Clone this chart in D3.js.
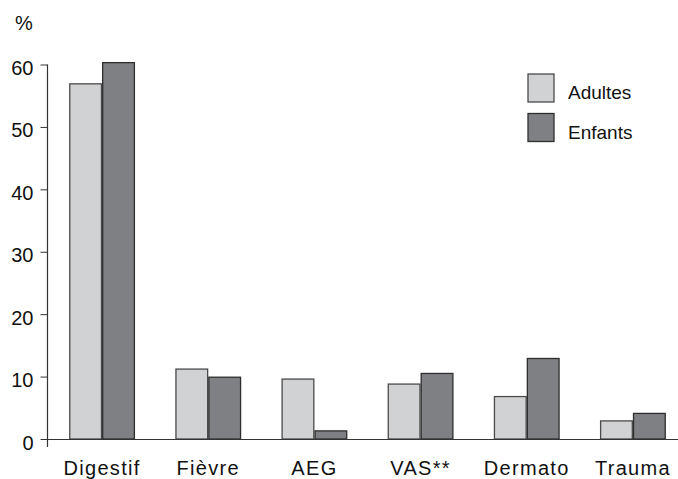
<!DOCTYPE html>
<html lang="fr">

<head>
  <meta charset="UTF-8">
  <title>Adultes / Enfants</title>
  <script src="https://d3js.org/d3.v7.min.js"></script>
  <style>
    body { margin: 0; background: #fff; }
    text { font-family: "Liberation Sans", Arial, sans-serif; fill: #111; }
    .axis text { font-size: 20px; }
    .axis-x text { letter-spacing: 1.3px; }
    .axis line, .axis path { stroke: #333; }
    .legend text { font-size: 19px; }
  </style>
</head>

<body>
  <svg width="678" height="479"></svg>

  <script>
    const categories = ['Digestif', 'Fièvre', 'AEG', 'VAS**', 'Dermato', 'Trauma'];
    const series = ['Adultes', 'Enfants'];
    const adultes = [56.9, 11.2, 9.6, 8.8, 6.8, 2.9];
    const enfants = [60.3, 9.9, 1.3, 10.5, 12.9, 4.1];
    const yTicks = [0, 10, 20, 30, 40, 50, 60];

    const fills = { Adultes: '#d1d2d4', Enfants: '#7f8084' };
    const strokes = { Adultes: '#4a4a4a', Enfants: '#2e2e2e' };

    const svg = d3.select('svg');

    const x0 = d3.scaleBand()
      .domain(categories)
      .range([49, 686])
      .paddingInner(0.38)
      .paddingOuter(0.19);

    const x1 = d3.scaleBand()
      .domain(series)
      .range([0, x0.bandwidth()]);

    const y = d3.scaleLinear()
      .domain([0, 60])
      .range([439, 64.5]);

    const rows = categories.map((c, i) => ({ cat: c, Adultes: adultes[i], Enfants: enfants[i] }));

    // bars
    const groups = svg.append('g')
      .selectAll('g')
      .data(rows)
      .enter().append('g')
      .attr('transform', d => 'translate(' + x0(d.cat) + ',0)');

    groups.selectAll('rect')
      .data(d => series.map(s => ({ s: s, v: d[s] })))
      .enter().append('rect')
      .attr('x', d => x1(d.s) + 0.6)
      .attr('width', x1.bandwidth() - 1.2)
      .attr('y', d => y(d.v))
      .attr('height', d => y(0) - y(d.v))
      .attr('fill', d => fills[d.s])
      .attr('stroke', d => strokes[d.s])
      .attr('stroke-width', 1.3);

    // x axis line
    svg.append('line')
      .attr('x1', 47.5).attr('x2', 678)
      .attr('y1', y(0) + 0.5).attr('y2', y(0) + 0.5)
      .attr('stroke', '#333')
      .attr('stroke-width', 1.2);

    // category labels
    const xAxis = svg.append('g')
      .attr('class', 'axis axis-x')
      .attr('transform', 'translate(0,' + y(0) + ')')
      .call(d3.axisBottom(x0).tickSize(0));
    xAxis.select('.domain').remove();
    xAxis.selectAll('text')
      .attr('y', 36)
      .attr('dy', 0);

    // y axis
    const yAxis = svg.append('g')
      .attr('class', 'axis axis-y')
      .attr('transform', 'translate(47.5,0)')
      .call(d3.axisLeft(y).tickValues(yTicks).tickSize(7).tickPadding(7));
    yAxis.select('.domain').remove();
    yAxis.selectAll('text').attr('dy', '0.5em');
    yAxis.append('line')
      .attr('y1', y(60)).attr('y2', 447)
      .attr('stroke', '#333')
      .attr('stroke-width', 1.2);

    svg.append('text')
      .attr('x', 15)
      .attr('y', 30)
      .style('font-size', '20px')
      .text('%');

    // legend
    const legend = svg.append('g')
      .attr('class', 'legend')
      .selectAll('g')
      .data(series)
      .enter().append('g')
      .attr('transform', (d, i) => 'translate(528,' + (74 + i * 39.5) + ')');

    legend.append('rect')
      .attr('width', 26)
      .attr('height', 28)
      .attr('fill', d => fills[d])
      .attr('stroke', d => strokes[d])
      .attr('stroke-width', 1.3);

    legend.append('text')
      .attr('x', 40)
      .attr('y', 25)
      .text(d => d);
  </script>
</body>

</html>
